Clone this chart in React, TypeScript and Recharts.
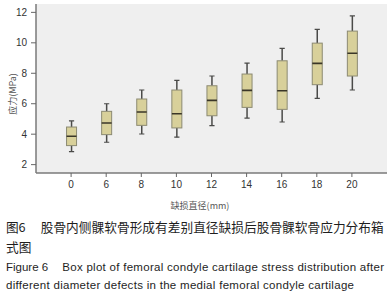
import React from 'react';
import { ComposedChart, Bar, XAxis, YAxis, CartesianGrid } from 'recharts';

const categories = ['0', '6', '8', '10', '12', '14', '16', '18', '20'];
const whiskerLow = [2.85, 3.47, 4.01, 3.8, 4.56, 5.06, 4.8, 6.35, 6.9];
const quartile1 = [3.25, 3.97, 4.58, 4.41, 5.21, 5.76, 5.63, 7.25, 7.82];
const medians = [3.86, 4.73, 5.46, 5.34, 6.22, 6.88, 6.85, 8.65, 9.32];
const quartile3 = [4.47, 5.5, 6.31, 6.9, 7.18, 7.95, 8.82, 9.98, 10.77];
const whiskerHigh = [4.87, 6.0, 6.9, 7.53, 7.82, 8.67, 9.63, 10.88, 11.77];
const yTicks = [2, 4, 6, 8, 10, 12];
const xTicks = categories.map((_, i) => i);

const data = categories.map((c, i) => ({
  idx: i,
  label: c,
  range: [whiskerLow[i], whiskerHigh[i]],
  lo: whiskerLow[i],
  q1: quartile1[i],
  med: medians[i],
  q3: quartile3[i],
  hi: whiskerHigh[i],
}));

const BoxShape = (props: any) => {
  const { x, y, width, height, payload } = props;
  if (payload == null) return null;
  const top = Math.min(y, y + height);
  const bot = Math.max(y, y + height);
  const { lo, hi } = payload;
  const toY = (v: number) => top + ((bot - top) * (hi - v)) / (hi - lo);
  const cx = x + width / 2;
  const yQ1 = toY(payload.q1);
  const yQ3 = toY(payload.q3);
  const yMed = toY(payload.med);
  const cap = 2.6;
  return (
    <g>
      <line x1={cx} x2={cx} y1={top} y2={yQ3} stroke="#4a4a48" strokeWidth={1.5} />
      <line x1={cx} x2={cx} y1={yQ1} y2={bot} stroke="#4a4a48" strokeWidth={1.5} />
      <line x1={cx - cap} x2={cx + cap} y1={top} y2={top} stroke="#4a4a48" strokeWidth={1.2} />
      <line x1={cx - cap} x2={cx + cap} y1={bot} y2={bot} stroke="#4a4a48" strokeWidth={1.2} />
      <rect x={x} y={yQ3} width={width} height={yQ1 - yQ3} fill="#d8d09a" stroke="#8c8a72" strokeWidth={1} />
      <line x1={x} x2={x + width} y1={yMed} y2={yMed} stroke="#3a3628" strokeWidth={1.6} />
    </g>
  );
};

const tickStyle = { fontSize: 10, fill: '#333', fontFamily: 'Liberation Sans, Arial, sans-serif' };

export default function App() {
  return (
    <div style={{ position: 'absolute', left: 0, top: 0, width: 392, height: 300, background: '#fff' }}>
      <ComposedChart width={392} height={200} data={data} margin={{ top: 4, right: 5, left: 0, bottom: 0 }}>
        <CartesianGrid horizontal={false} vertical={false} fill="#efefef" />
        <XAxis
          dataKey="idx"
          type="number"
          domain={[-1, 9]}
          ticks={xTicks}
          tickFormatter={(v: number) => categories[v]}
          height={27}
          tickSize={4}
          tickMargin={4}
          tick={tickStyle}
          axisLine={{ stroke: '#7a7a7a', strokeWidth: 1.5 }}
          tickLine={{ stroke: '#666' }}
          interval={0}
        />
        <XAxis
          xAxisId="top"
          orientation="top"
          dataKey="idx"
          type="number"
          domain={[-1, 9]}
          height={0}
          tick={false}
          tickLine={false}
          axisLine={{ stroke: '#a0a0a0' }}
        />
        <YAxis
          type="number"
          domain={[1.45, 12.55]}
          ticks={yTicks}
          width={36}
          tickSize={5}
          tickMargin={4}
          tick={tickStyle}
          axisLine={{ stroke: '#7a7a7a', strokeWidth: 1.5 }}
          tickLine={{ stroke: '#666' }}
          allowDataOverflow
        />
        <YAxis
          yAxisId="right"
          orientation="right"
          type="number"
          domain={[0, 1]}
          width={0}
          tick={false}
          tickLine={false}
          axisLine={{ stroke: '#a0a0a0' }}
        />
        <Bar dataKey="range" barSize={10} shape={<BoxShape />} isAnimationActive={false} />
      </ComposedChart>
      <svg
        width={392}
        height={300}
        style={{ position: 'absolute', left: 0, top: 0, pointerEvents: 'none' }}
      >
        <text
          x={12.7}
          y={94}
          transform="rotate(-90 12.7 94)"
          textAnchor="middle"
          dominantBaseline="central"
          fontSize={9}
          fill="#555"
          fontFamily="Noto Sans CJK SC, Liberation Sans, sans-serif"
        >
          应力(MPa)
        </text>
        <text
          x={200}
          y={205}
          textAnchor="middle"
          dominantBaseline="central"
          fontSize={9}
          fill="#555"
          fontFamily="Noto Sans CJK SC, Liberation Sans, sans-serif"
        >
          缺损直径(mm)
        </text>
        <g fill="#1e1e1e" fontFamily="Noto Sans CJK SC, sans-serif" fontSize={12.7}>
          <text x={6} y={231.8}>图</text>
          <text x={18.5} y={231.8}>6</text>
          <text x={40.7} y={231.8} textLength={343} lengthAdjust="spacing">
            股骨内侧髁软骨形成有差别直径缺损后股骨髁软骨应力分布箱
          </text>
          <text x={6} y={251.8}>式图</text>
        </g>
        <g fill="#1e1e1e" fontFamily="Liberation Sans, Arial, sans-serif" fontSize={11.5}>
          <text x={6} y={271}>Figure 6</text>
          <text x={62.3} y={271} textLength={321.7} lengthAdjust="spacing">
            Box plot of femoral condyle cartilage stress distribution after
          </text>
          <text x={6} y={289} textLength={348} lengthAdjust="spacing">
            different diameter defects in the medial femoral condyle cartilage
          </text>
        </g>
      </svg>
    </div>
  );
}
